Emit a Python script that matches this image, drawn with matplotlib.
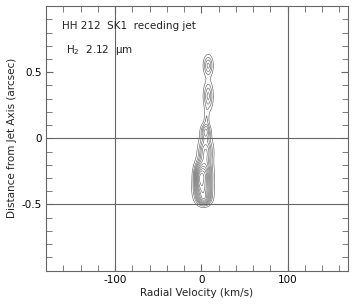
import numpy as np
import matplotlib
matplotlib.use('Agg')
import matplotlib.pyplot as plt
from matplotlib.ticker import MultipleLocator

# Knots of the position-velocity map
knot_vel = [8, 8, 6, 5, 5, 3, 2, 3, -3]          # km/s
knot_pos = [0.55, 0.32, 0.15, 0.05, -0.10, -0.28, -0.40, -0.46, -0.30]  # arcsec
knot_sv = [3.5, 3.5, 2.0, 3.5, 5.0, 5.5, 6.0, 5.0, 3.5]
knot_sy = [0.05, 0.07, 0.05, 0.04, 0.07, 0.07, 0.05, 0.03, 0.06]
knot_amp = [0.30, 0.30, 0.12, 0.35, 0.45, 0.80, 0.60, 0.40, 0.40]
levels = [0.07, 0.14, 0.21, 0.28, 0.36, 0.45, 0.55, 0.65, 0.75, 0.85, 0.95]

xticks = [-100, 0, 100]
yticks = [-0.5, 0, 0.5]

v = np.linspace(-180, 170, 600)
y = np.linspace(-1, 1, 600)
V, Y = np.meshgrid(v, y)
Z = np.zeros_like(V)
for kv, kp, sv, sy, a in zip(knot_vel, knot_pos, knot_sv, knot_sy, knot_amp):
    Z += a * np.exp(-0.5 * (((V - kv) / sv) ** 2 + ((Y - kp) / sy) ** 2))

plt.rcParams['font.family'] = 'DejaVu Sans'
fig = plt.figure(figsize=(3.54, 3.04), dpi=100)
ax = fig.add_axes([0.130, 0.110, 0.853, 0.870])

ax.contour(V, Y, Z, levels=levels, colors='#666666', linewidths=0.45)

gc = '#666666'
for xv in [-100, 100]:
    ax.axvline(xv, color=gc, lw=0.8)
for yv in [0, -0.5]:
    ax.axhline(yv, color=gc, lw=0.8)

ax.set_xlim(-180, 170)
ax.set_ylim(-1, 1)
ax.set_xticks(xticks)
ax.set_xticklabels(['-100', '0', '100'])
ax.set_yticks(yticks)
ax.set_yticklabels(['-0.5', '0', '0.5'])
ax.xaxis.set_minor_locator(MultipleLocator(20))
ax.yaxis.set_minor_locator(MultipleLocator(0.1))
ax.tick_params(which='both', direction='in', top=True, right=True,
               color=gc, labelsize=7.5, pad=3)
ax.tick_params(which='major', length=5)
ax.tick_params(which='minor', length=4)
for s in ax.spines.values():
    s.set_color(gc)
    s.set_linewidth(0.8)

ax.set_xlabel('Radial Velocity (km/s)', fontsize=7.5, color='#222222', labelpad=2)
ax.set_ylabel('Distance from Jet Axis (arcsec)', fontsize=7.5, color='#222222', labelpad=3)

ax.text(-161, 0.85, 'HH 212  SK1  receding jet', fontsize=7.5, color='#222222', va='center')
ax.text(-157, 0.667, r'H$_2$  2.12  μm', fontsize=7.5, color='#222222', va='center')

fig.savefig('out.png', dpi=100)
